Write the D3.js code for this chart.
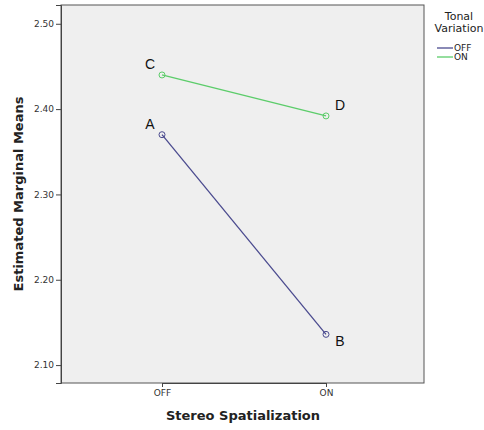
<!DOCTYPE html>
<html>
<head>
<meta charset="utf-8">
<script src="https://cdn.jsdelivr.net/npm/d3@7"></script>
<style>
  body { margin: 0; background: #fff; }
  text { font-family: "DejaVu Sans", sans-serif; }
</style>
</head>
<body>
<svg id="chart" width="484" height="430"></svg>
<script>
// Data
const xCategories = ["OFF", "ON"];
const seriesNames = ["OFF", "ON"];
const offValues = [2.370, 2.136];
const onValues = [2.440, 2.392];
const pointLabels = [["A", "B"], ["C", "D"]];
const yTicks = [2.10, 2.20, 2.30, 2.40, 2.50];
const colors = ["#4b4b8f", "#5ccc6a"];

const svg = d3.select("#chart");
const margin = { top: 5, right: 60, bottom: 47, left: 61 };
const width = 484 - margin.left - margin.right;
const height = 430 - margin.top - margin.bottom;

const g = svg.append("g")
  .attr("transform", `translate(${margin.left},${margin.top})`);

// Scales
const x = d3.scalePoint()
  .domain(xCategories)
  .range([101, 265]);

const y = d3.scaleLinear()
  .domain([2.079, 2.522])
  .range([height, 0]);

// Plot background
g.append("rect")
  .attr("width", width)
  .attr("height", height)
  .attr("fill", "#efefef")
  .attr("stroke", "#555")
  .attr("stroke-width", 1);

// Y axis
const yAxis = g.append("g")
  .call(d3.axisLeft(y).tickValues(yTicks).tickFormat(d3.format(".2f")).tickSize(5).tickPadding(2));
yAxis.select(".domain").attr("stroke", "#444");
yAxis.selectAll("line").attr("stroke", "#444");
yAxis.selectAll("text").style("font-size", "9px").style("fill", "#333");

// X axis
const xAxis = g.append("g")
  .attr("transform", `translate(0,${height})`)
  .call(d3.axisBottom(x).tickSize(4).tickPadding(3));
xAxis.select(".domain").attr("stroke", "#444");
xAxis.selectAll("line").attr("stroke", "#444");
xAxis.selectAll("text").style("font-size", "9px").style("fill", "#333");

// Axis titles
svg.append("text")
  .attr("x", 243)
  .attr("y", 420)
  .attr("text-anchor", "middle")
  .style("font-size", "13px")
  .style("font-weight", "bold")
  .style("fill", "#222")
  .text("Stereo Spatialization");

svg.append("text")
  .attr("transform", "rotate(-90)")
  .attr("x", -194)
  .attr("y", 23)
  .attr("text-anchor", "middle")
  .style("font-size", "13px")
  .style("font-weight", "bold")
  .style("fill", "#222")
  .text("Estimated Marginal Means");

// Series
const series = [offValues, onValues];
const line = d3.line()
  .x((d, i) => x(xCategories[i]))
  .y((d) => y(d));

series.forEach((vals, s) => {
  g.append("path")
    .datum(vals)
    .attr("fill", "none")
    .attr("stroke", colors[s])
    .attr("stroke-width", 1.3)
    .attr("d", line);

  g.selectAll(`.pt-${s}`)
    .data(vals)
    .enter()
    .append("circle")
    .attr("cx", (d, i) => x(xCategories[i]))
    .attr("cy", (d) => y(d))
    .attr("r", 3)
    .attr("fill", "none")
    .attr("stroke", colors[s])
    .attr("stroke-width", 1);

  g.selectAll(`.lbl-${s}`)
    .data(vals)
    .enter()
    .append("text")
    .attr("x", (d, i) => x(xCategories[i]) + (i === 0 ? -12 : 14))
    .attr("y", (d, i) => y(d) + (s === 0 && i === 1 ? 12 : -6))
    .attr("text-anchor", "middle")
    .style("font-family", "'Liberation Sans', Arial, sans-serif")
    .style("font-size", "14px")
    .style("fill", "#111")
    .text((d, i) => pointLabels[s][i]);
});

// Legend
const legend = svg.append("g").attr("transform", "translate(437,0)");
legend.append("text")
  .attr("x", 22).attr("y", 20)
  .attr("text-anchor", "middle")
  .style("font-size", "11px").style("fill", "#222")
  .text("Tonal");
legend.append("text")
  .attr("x", 22).attr("y", 32)
  .attr("text-anchor", "middle")
  .style("font-size", "11px").style("fill", "#222")
  .text("Variation");

seriesNames.forEach((name, i) => {
  const row = legend.append("g").attr("transform", `translate(0,${48 + i * 9})`);
  row.append("line")
    .attr("x1", 0).attr("x2", 16)
    .attr("stroke", colors[i]).attr("stroke-width", 1.3);
  row.append("text")
    .attr("x", 17).attr("y", 3)
    .style("font-size", "9px").style("fill", "#222")
    .text(name);
});
</script>
</body>
</html>
